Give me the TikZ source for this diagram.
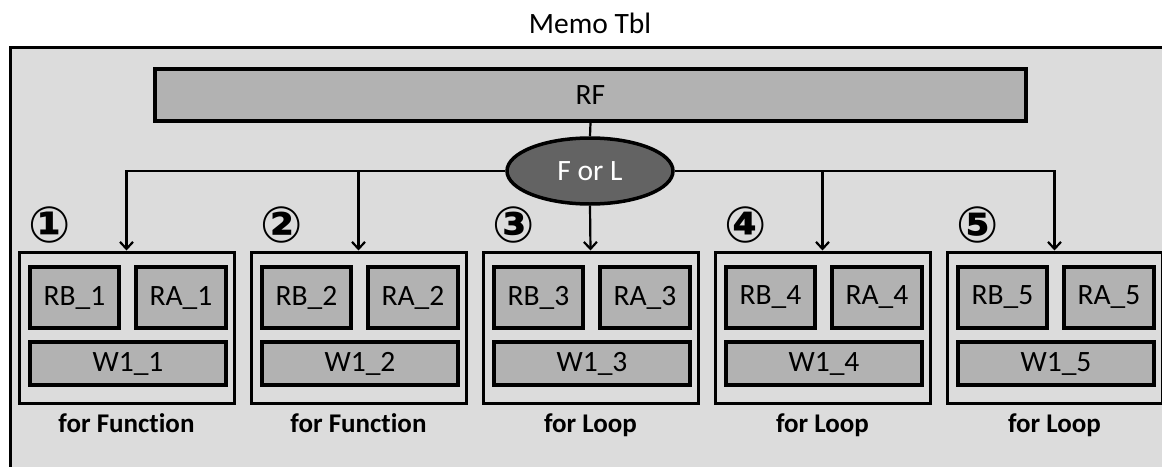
\documentclass[tikz,border=0pt]{standalone}
\usepackage{fontspec}
\setmainfont{Carlito}[Ligatures=CommonOff]
\newfontfamily\circfont{DejaVu Sans}
\usetikzlibrary{arrows.meta,shapes.geometric}
\definecolor{panelgray}{HTML}{DCDCDC}
\definecolor{cellgray}{HTML}{B2B2B2}
\definecolor{ovalgray}{HTML}{636363}
\tikzset{
  label font/.style={font=\fontsize{29.5}{32}\selectfont},
  cell/.style={draw=black, line width=3.5pt, fill=cellgray, inner sep=0pt,
    label font},
  group/.style={draw=black, line width=3pt, fill=panelgray, inner sep=0pt,
    minimum width=215, minimum height=151},
  caption/.style={font=\bfseries\fontsize{27}{30}\selectfont, anchor=base,
    inner sep=0pt},
  marker/.style={font=\circfont\bfseries\fontsize{50}{54}\selectfont, inner sep=0pt},
  link/.style={line width=2.2pt},
  flow/.style={link, -{Straight Barb[length=7pt,width=13pt,line width=2.2pt]}}
}
\begin{document}
\begin{tikzpicture}[x=1pt,y=-1pt]
\useasboundingbox (0,0) rectangle (1162,466);
\clip (0,0) rectangle (1162,466);
% table frame, open past the page edges
\draw[line width=3pt, fill=panelgray] (10,47) rectangle (1200,520);
\node[label font] (title) at (590,23) {Memo Tbl};
% register file bar and selector
\node[cell, minimum width=871, minimum height=52] (rf) at (590.5,95) {RF};
\node[ellipse, draw=black, line width=3.5pt, fill=ovalgray, text=white,
  minimum width=166, minimum height=66, inner sep=0pt, label font]
  (sel) at (590,171) {F or L};
\draw[link] (rf.south) -- (sel.north);
% five entries
\foreach \i/\kind in {1/Function,2/Function,3/Loop,4/Loop,5/Loop}{
  \pgfmathsetmacro{\bx}{19+232*(\i-1)}
  \node[group] (g\i) at (\bx+107.5,327.5) {};
  \node[cell, minimum width=89, minimum height=61] (rb\i) at (\bx+55.5,297.5) {RB\_\i};
  \node[cell, minimum width=90, minimum height=61] (ra\i) at (\bx+162,297.5) {RA\_\i};
  \node[cell, minimum width=196, minimum height=43] (w\i) at (\bx+109,363.5) {W1\_\i};
  \node[caption] (c\i) at (\bx+107.5,432) {for \kind};
}
\node[marker] (m1) at (50,225) {①};
\node[marker] (m2) at (282,225) {②};
\node[marker] (m3) at (514,225) {③};
\node[marker] (m4) at (746,225) {④};
\node[marker] (m5) at (978,225) {⑤};
% fan-out from the selector
\draw[flow] (sel.west) -| (g1.north);
\draw[flow] (sel.east) -| (g5.north);
\draw[flow] (sel.south) -- (g3.north);
\draw[flow] (g2.north |- sel.west) -- (g2.north);
\draw[flow] (g4.north |- sel.east) -- (g4.north);
\end{tikzpicture}
\end{document}
